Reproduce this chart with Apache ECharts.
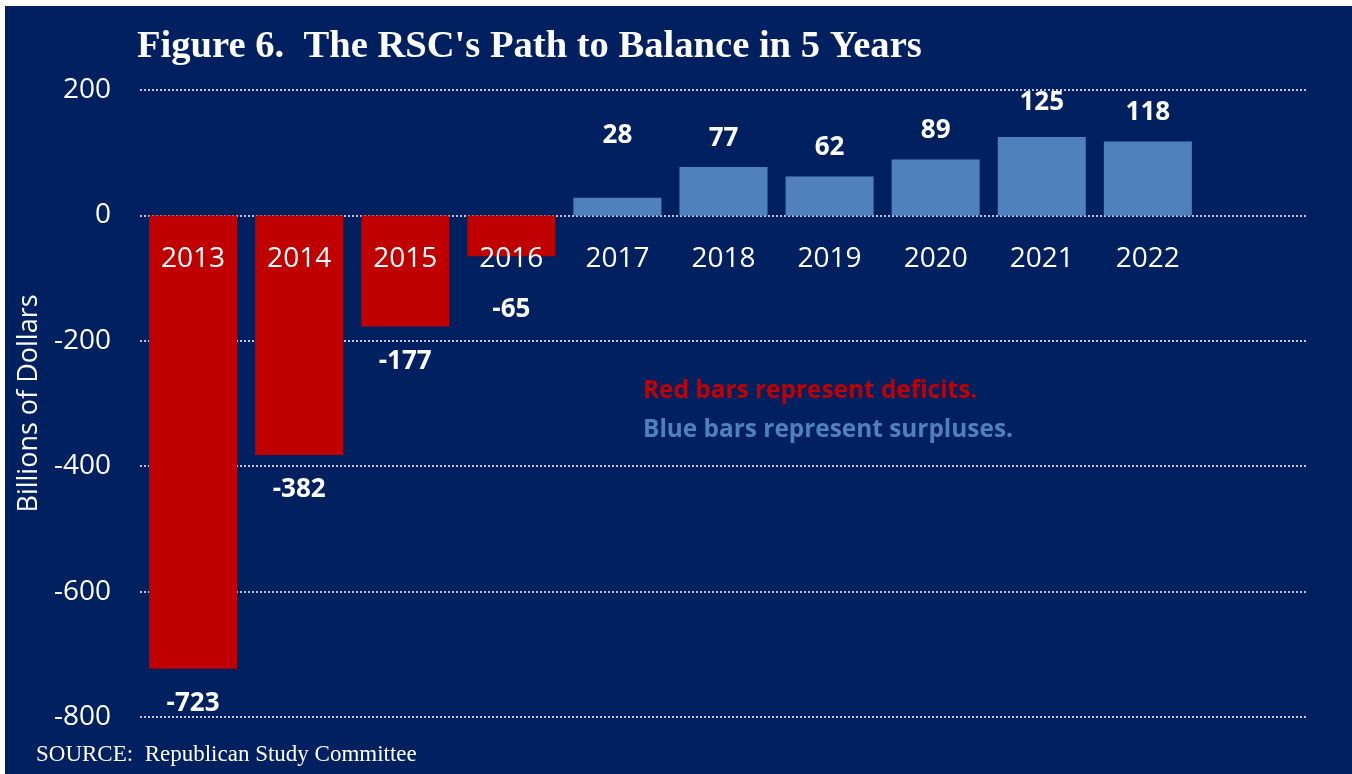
<!DOCTYPE html>
<html>
<head>
<meta charset="utf-8" />
<title>Figure 6. The RSC's Path to Balance in 5 Years</title>
<script src="https://cdn.jsdelivr.net/npm/echarts@6/dist/echarts.min.js"></script>
<style>
  html, body { margin: 0; padding: 0; background: #fff; overflow: hidden; }
  #main { position: absolute; left: 5px; top: 6px; width: 1347px; height: 768px; }
</style>
</head>
<body>
<div id="main"></div>
<script>
// data (billions of dollars)
var years = ['2013', '2014', '2015', '2016', '2017', '2018', '2019', '2020', '2021', '2022'];
var balance = [-723, -382, -177, -65, 28, 77, 62, 89, 125, 118];
var yTicks = [-800, -600, -400, -200, 0, 200];

var RED = '#c00000';
var BLUE = '#4f81bd';
var NAVY = '#002060';

// a few labels sit further from their bar in the original
var labelGap = { 3: 40, 4: 49, 8: 21 };

var chart = echarts.init(document.getElementById('main'));

var barData = balance.map(function (v, i) {
    var neg = v < 0;
    return {
        value: v,
        itemStyle: { color: neg ? RED : BLUE },
        label: {
            position: neg ? 'bottom' : 'top',
            distance: labelGap[i] != null ? labelGap[i] : (neg ? 22 : 16)
        }
    };
});

// the year labels sit just under the zero line, on top of the bars
var gridTop = 84, gridBottom = 57, plotH = 768 - gridTop - gridBottom;
var zeroOffset = -Math.round(plotH * (0 - yTicks[0]) / (yTicks[yTicks.length - 1] - yTicks[0]));

var option = {
    backgroundColor: NAVY,
    animation: false,
    title: {
        text: "Figure 6.  The RSC's Path to Balance in 5 Years",
        left: 127,
        top: 17,
        textStyle: {
            color: '#fff',
            fontFamily: 'Liberation Serif',
            fontWeight: 'bold',
            fontSize: 38.6
        }
    },
    grid: { left: 135, right: 45, top: gridTop, bottom: gridBottom },
    xAxis: {
        type: 'category',
        data: years.concat(['']),
        position: 'bottom',
        offset: zeroOffset,
        z: 10,
        axisLine: { show: false, onZero: false },
        axisTick: { show: false },
        axisLabel: {
            color: '#fff',
            fontFamily: 'Open Sans',
            fontSize: 28,
            margin: 30
        },
        splitLine: { show: false }
    },
    yAxis: {
        type: 'value',
        min: yTicks[0],
        max: yTicks[yTicks.length - 1],
        interval: 200,
        name: 'Billions of Dollars',
        nameLocation: 'middle',
        nameGap: 91,
        nameTextStyle: { color: '#fff', fontFamily: 'Open Sans', fontSize: 27 },
        axisLine: { show: false },
        axisTick: { show: false },
        axisLabel: {
            color: '#fff',
            fontFamily: 'Open Sans',
            fontSize: 28,
            margin: 29
        },
        splitLine: {
            lineStyle: { color: '#ffffff', width: 1.5, type: [2, 2] }
        }
    },
    series: [{
        type: 'bar',
        data: barData,
        barCategoryGap: '17%',
        label: {
            show: true,
            color: '#fff',
            fontFamily: 'Open Sans',
            fontWeight: 'bold',
            fontSize: 26
        }
    }],
    graphic: [
        {
            type: 'text', left: 638, top: 373,
            style: { text: 'Red bars represent deficits.', fill: RED,
                font: 'bold 24.4px "Open Sans"' }
        },
        {
            type: 'text', left: 638, top: 412,
            style: { text: 'Blue bars represent surpluses.', fill: BLUE,
                font: 'bold 24.4px "Open Sans"' }
        },
        {
            type: 'text', left: 31, top: 737,
            style: { text: 'SOURCE:  Republican Study Committee', fill: '#fff',
                font: '23px "Liberation Serif"' }
        }
    ]
};

chart.setOption(option);
</script>
</body>
</html>
